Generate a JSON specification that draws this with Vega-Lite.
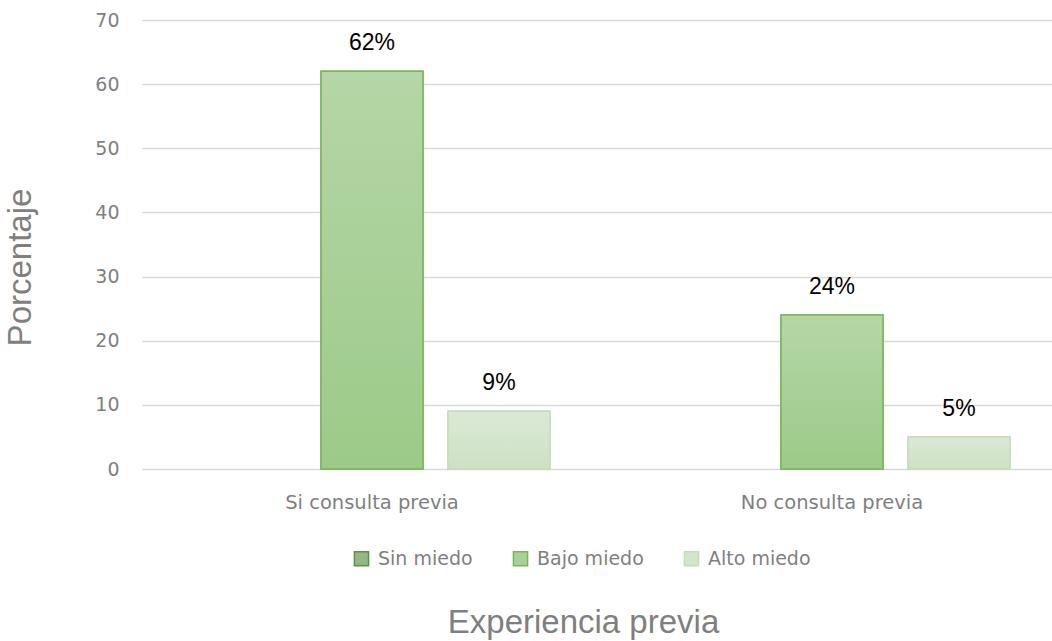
{
  "$schema": "https://vega.github.io/schema/vega-lite/v6.json",
  "width": 910,
  "height": 449,
  "autosize": {"type": "none"},
  "padding": {"left": 142, "top": 20, "right": 0, "bottom": 172},
  "background": "white",
  "config": {"view": {"stroke": null}},
  "data": {
    "values": [
      {"experiencia": "Si consulta previa", "miedo": "Sin miedo", "valor": 0, "etiqueta": "0%"},
      {"experiencia": "Si consulta previa", "miedo": "Bajo miedo", "valor": 62, "etiqueta": "62%"},
      {"experiencia": "Si consulta previa", "miedo": "Alto miedo", "valor": 9, "etiqueta": "9%"},
      {"experiencia": "No consulta previa", "miedo": "Sin miedo", "valor": 0, "etiqueta": "0%"},
      {"experiencia": "No consulta previa", "miedo": "Bajo miedo", "valor": 24, "etiqueta": "24%"},
      {"experiencia": "No consulta previa", "miedo": "Alto miedo", "valor": 5, "etiqueta": "5%"}
    ]
  },
  "encoding": {
    "x": {
      "field": "experiencia",
      "type": "nominal",
      "sort": ["Si consulta previa", "No consulta previa"],
      "scale": {"range": [0, 920], "paddingInner": 0, "paddingOuter": 0},
      "axis": {
        "title": "Experiencia previa",
        "titleFont": "Liberation Sans",
        "titleFontSize": 33,
        "titleFontWeight": "normal",
        "titleColor": "#7f7f7f",
        "titleX": 441,
        "titleY": 163,
        "titleBaseline": "alphabetic",
        "titleAlign": "center",
        "labelAngle": 0,
        "labelFont": "DejaVu Sans",
        "labelFontSize": 19.5,
        "labelColor": "#7f7f7f",
        "labelPadding": 24,
        "labelLimit": 500,
        "labelOverlap": false,
        "labelBound": false,
        "ticks": false,
        "domain": false,
        "grid": false
      }
    },
    "xOffset": {
      "field": "miedo",
      "type": "nominal",
      "sort": ["Sin miedo", "Bajo miedo", "Alto miedo"],
      "scale": {"domain": ["Sin miedo", "Bajo miedo", "Alto miedo"], "paddingInner": 0.197, "paddingOuter": 0.41}
    },
    "y": {
      "field": "valor",
      "type": "quantitative",
      "scale": {"domain": [0, 70], "nice": false},
      "axis": {
        "title": "Porcentaje",
        "titleFont": "Liberation Sans",
        "titleFontSize": 33,
        "titleFontWeight": "normal",
        "titleColor": "#7f7f7f",
        "titleX": -122,
        "titleY": 247,
        "titleAngle": -90,
        "titleBaseline": "middle",
        "titleAlign": "center",
        "values": [0, 10, 20, 30, 40, 50, 60, 70],
        "labelFont": "DejaVu Sans",
        "labelFontSize": 19,
        "labelColor": "#7f7f7f",
        "labelPadding": 23,
        "ticks": false,
        "domain": false,
        "grid": true,
        "gridColor": "#d9d9d9",
        "gridWidth": 1.5
      }
    }
  },
  "layer": [
    {
      "mark": {"type": "bar", "strokeWidth": 1.5},
      "encoding": {
        "color": {
          "field": "miedo",
          "type": "nominal",
          "sort": ["Sin miedo", "Bajo miedo", "Alto miedo"],
          "scale": {"domain": ["Sin miedo", "Bajo miedo", "Alto miedo"], "range": ["#93b886", "#a9d098", "#d4e5cc"]},
          "legend": {
            "title": null,
            "orient": "none",
            "direction": "horizontal",
            "legendX": 210,
            "legendY": 529,
            "symbolType": "square",
            "symbolSize": 200,
            "symbolStrokeWidth": 1.5,
            "symbolOpacity": 1,
            "labelFont": "DejaVu Sans",
            "labelFontSize": 19,
            "labelColor": "#7f7f7f",
            "labelOffset": 7,
            "columnPadding": 37
          }
        },
        "stroke": {
          "field": "miedo",
          "type": "nominal",
          "sort": ["Sin miedo", "Bajo miedo", "Alto miedo"],
          "scale": {"domain": ["Sin miedo", "Bajo miedo", "Alto miedo"], "range": ["#5b9440", "#7ab55c", "#c5dcba"]},
          "legend": {
            "title": null,
            "orient": "none",
            "direction": "horizontal",
            "legendX": 210,
            "legendY": 529,
            "symbolType": "square",
            "symbolSize": 200,
            "symbolStrokeWidth": 1.5,
            "symbolOpacity": 1,
            "labelFont": "DejaVu Sans",
            "labelFontSize": 19,
            "labelColor": "#7f7f7f",
            "labelOffset": 7,
            "columnPadding": 37
          }
        },
        "strokeOpacity": {"condition": {"test": "datum.valor == 0", "value": 0}, "value": 1}
      }
    },
    {
      "transform": [{"filter": "datum.miedo == 'Bajo miedo'"}],
      "mark": {
        "type": "bar",
        "strokeWidth": 1.5,
        "stroke": "#7ab55c",
        "fill": {
          "gradient": "linear", "x1": 0, "y1": 0, "x2": 0, "y2": 1,
          "stops": [{"offset": 0, "color": "#b5d6a7"}, {"offset": 1, "color": "#9cca88"}]
        }
      },
      "encoding": {}
    },
    {
      "transform": [{"filter": "datum.miedo == 'Alto miedo'"}],
      "mark": {
        "type": "bar",
        "strokeWidth": 1.5,
        "stroke": "#c5dcba",
        "fill": {
          "gradient": "linear", "x1": 0, "y1": 0, "x2": 0, "y2": 1,
          "stops": [{"offset": 0, "color": "#dbe9d5"}, {"offset": 1, "color": "#cde1c4"}]
        }
      },
      "encoding": {}
    },
    {
      "transform": [{"filter": "datum.valor > 0"}],
      "mark": {"type": "text", "font": "Liberation Sans", "fontSize": 23, "color": "black", "baseline": "alphabetic", "dy": -21},
      "encoding": {
        "text": {"field": "etiqueta", "type": "nominal"}
      }
    }
  ]
}
